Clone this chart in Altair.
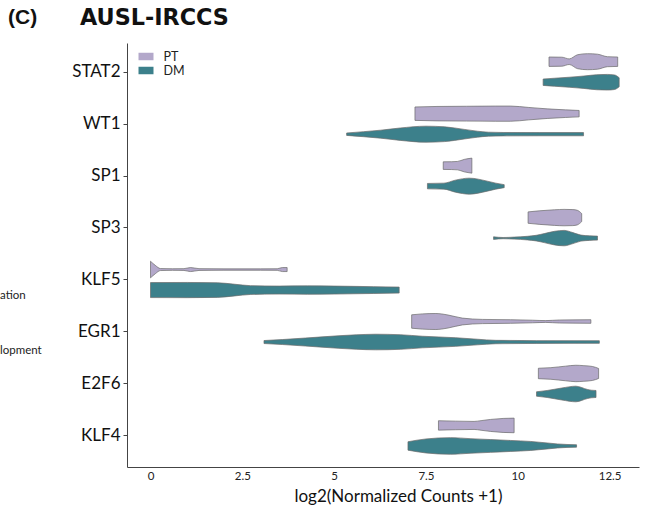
import altair as alt
import pandas as pd

# Genes from bottom to top of the chart
GENES = ["KLF4", "E2F6", "EGR1", "KLF5", "SP3", "SP1", "WT1", "STAT2"]
GROUPS = ["PT", "DM"]
COLORS = ["#b3a8ca", "#3c808b"]
X_TICKS = [0, 2.5, 5, 7.5, 10, 12.5]

# Violin outlines: expression values and density (half-width)
STAT2_PT_X = [10.85, 11.2, 11.4, 11.63, 11.9, 12.17, 12.44, 12.72]
STAT2_PT_D = [4.7, 4.5, 2.8, 7.0, 8.0, 7.5, 5.0, 4.7]
STAT2_DM_X = [10.69, 11.0, 11.4, 11.8, 12.15, 12.44, 12.63, 12.76]
STAT2_DM_D = [3.2, 4.0, 5.0, 6.2, 7.5, 7.8, 7.3, 4.5]

WT1_PT_X = [7.2, 7.8, 8.6, 9.4, 9.8, 10.3, 10.8, 11.3, 11.67]
WT1_PT_D = [6.7, 7.2, 7.4, 7.6, 7.6, 6.2, 4.8, 3.8, 3.2]
WT1_DM_X = [5.34, 5.8, 6.27, 6.8, 7.5, 8.0, 8.54, 8.9, 9.2, 9.6, 10.6, 11.79]
WT1_DM_D = [1.2, 2.5, 4.0, 6.2, 8.0, 7.4, 4.8, 3.0, 2.0, 1.7, 1.6, 1.6]

SP1_PT_X = [7.97, 8.2, 8.36, 8.54, 8.75]
SP1_PT_D = [3.8, 3.9, 4.2, 6.2, 7.5]
SP1_DM_X = [7.54, 7.99, 8.3, 8.68, 9.17, 9.4, 9.63]
SP1_DM_D = [2.7, 3.0, 6.0, 8.0, 5.0, 3.0, 1.5]

SP3_PT_X = [10.28, 10.6, 11.0, 11.26, 11.5, 11.62, 11.74]
SP3_PT_D = [5.7, 6.8, 7.8, 8.2, 8.0, 7.3, 4.0]
SP3_DM_X = [9.34, 9.6, 9.9, 10.26, 10.5, 10.72, 11.0, 11.26, 11.5, 11.72, 11.95, 12.17]
SP3_DM_D = [1.3, 0.6, 1.0, 1.8, 2.8, 4.5, 6.8, 7.7, 5.5, 3.0, 2.3, 2.0]

KLF5_PT_X = [0.0, 0.13, 0.27, 0.6, 0.91, 1.09, 1.32, 2.0, 3.0, 3.45, 3.59, 3.72]
KLF5_PT_D = [8.3, 4.2, 1.0, 0.8, 0.9, 2.0, 0.9, 0.7, 0.7, 0.8, 2.0, 2.0]
KLF5_DM_X = [0.0, 1.0, 1.82, 2.3, 2.72, 3.5, 4.27, 5.0, 6.08, 6.77]
KLF5_DM_D = [7.5, 7.6, 7.3, 5.8, 4.4, 4.0, 4.2, 4.0, 3.4, 3.0]

EGR1_PT_X = [7.11, 7.4, 7.77, 8.1, 8.49, 9.04, 9.8, 10.4, 10.76, 11.13, 11.99]
EGR1_PT_D = [6.7, 7.6, 8.0, 6.5, 3.4, 2.1, 1.8, 1.3, 0.9, 1.5, 1.8]
EGR1_DM_X = [3.09, 3.6, 4.22, 5.13, 5.6, 6.13, 6.8, 7.4, 8.31, 8.9, 9.4, 10.5, 12.22]
EGR1_DM_D = [1.5, 2.5, 4.0, 6.3, 7.2, 7.8, 7.3, 5.8, 4.3, 2.8, 1.7, 1.4, 1.3]

E2F6_PT_X = [10.56, 10.9, 11.3, 11.58, 11.8, 12.03, 12.2]
E2F6_PT_D = [5.2, 5.8, 7.3, 8.2, 7.8, 7.0, 5.0]
E2F6_DM_X = [10.51, 10.8, 11.2, 11.58, 11.9, 12.0, 12.13]
E2F6_DM_D = [2.2, 3.5, 6.0, 7.8, 4.5, 3.8, 3.5]

KLF4_PT_X = [7.84, 8.3, 8.81, 9.0, 9.26, 9.6, 9.9]
KLF4_PT_D = [4.7, 4.3, 4.0, 4.8, 6.0, 7.0, 7.3]
KLF4_DM_X = [7.01, 7.5, 8.17, 8.7, 9.26, 9.8, 10.35, 10.8, 11.08, 11.6]
KLF4_DM_D = [4.2, 7.0, 8.3, 7.3, 6.4, 5.5, 4.5, 3.0, 2.0, 1.2]

VIOLINS = {
    ("STAT2", "PT"): (STAT2_PT_X, STAT2_PT_D), ("STAT2", "DM"): (STAT2_DM_X, STAT2_DM_D),
    ("WT1", "PT"): (WT1_PT_X, WT1_PT_D), ("WT1", "DM"): (WT1_DM_X, WT1_DM_D),
    ("SP1", "PT"): (SP1_PT_X, SP1_PT_D), ("SP1", "DM"): (SP1_DM_X, SP1_DM_D),
    ("SP3", "PT"): (SP3_PT_X, SP3_PT_D), ("SP3", "DM"): (SP3_DM_X, SP3_DM_D),
    ("KLF5", "PT"): (KLF5_PT_X, KLF5_PT_D), ("KLF5", "DM"): (KLF5_DM_X, KLF5_DM_D),
    ("EGR1", "PT"): (EGR1_PT_X, EGR1_PT_D), ("EGR1", "DM"): (EGR1_DM_X, EGR1_DM_D),
    ("E2F6", "PT"): (E2F6_PT_X, E2F6_PT_D), ("E2F6", "DM"): (E2F6_DM_X, E2F6_DM_D),
    ("KLF4", "PT"): (KLF4_PT_X, KLF4_PT_D), ("KLF4", "DM"): (KLF4_DM_X, KLF4_DM_D),
}

DODGE = {"PT": 0.19, "DM": -0.205}
WIDTH_UNIT = 1 / 51.9

rows = []
for (gene, grp), (xs, ds) in VIOLINS.items():
    center = GENES.index(gene) + DODGE[grp]
    for x, d in zip(xs, ds):
        rows.append({"gene": gene, "group": grp, "vid": f"{gene}-{grp}", "x": x,
                     "y": center + d * WIDTH_UNIT, "y2": center - d * WIDTH_UNIT})
df = pd.DataFrame(rows)

FONT = "Lato"
label_expr = "[" + ",".join(f"'{g}'" for g in GENES) + "][datum.value]"

violins = alt.Chart(df).mark_area(
    interpolate="monotone", orient="vertical", stroke="#6a6a6a", strokeWidth=0.7
).encode(
    x=alt.X("x:Q", scale=alt.Scale(domain=[-0.64, 13.3], nice=False, zero=False),
            axis=alt.Axis(values=X_TICKS, labelExpr="'' + datum.value", ticks=False,
                          grid=False, labelFont=FONT, labelFontSize=11.5, labelColor="#222",
                          labelPadding=3, labelFlush=False, domainColor="#444",
                          title="log2(Normalized Counts +1)", titleFont=FONT,
                          titleFontSize=17, titleFontWeight="normal", titleColor="#111",
                          titlePadding=7, titleX=271)),
    y=alt.Y("y:Q", stack=None,
            scale=alt.Scale(domain=[-0.61, 7.55], nice=False, zero=False),
            axis=alt.Axis(values=list(range(len(GENES))), labelExpr=label_expr,
                          grid=False, tickSize=4, tickColor="#444", domainColor="#444",
                          labelFont=FONT, labelFontSize=17, labelColor="#111",
                          labelPadding=3, title=None)),
    y2="y2:Q",
    color=alt.Color("group:N", scale=alt.Scale(domain=GROUPS, range=COLORS),
                    legend=alt.Legend(title=None, orient="none", legendX=11.5, legendY=6,
                                      symbolType="M-1,-0.5H1V0.5H-1Z", symbolSize=225,
                                      symbolStrokeWidth=0, labelFont=FONT,
                                      labelFontSize=12.5, labelColor="#222",
                                      labelOffset=10, rowPadding=0, padding=0)),
    detail="vid:N",
)

def note(text, x, y, size, font, weight="normal", color="#222"):
    return alt.Chart(pd.DataFrame({"t": [text]})).mark_text(
        text=text, align="left", baseline="middle", font=font, fontSize=size,
        fontWeight=weight, color=color
    ).encode(x=alt.value(x), y=alt.value(y))

chart = alt.layer(
    violins,
    note("(C)", -119, -25, 21, "Liberation Sans", "bold", "#111"),
    note("AUSL-IRCCS", -47, -25, 22.3, "DejaVu Sans", "bold", "#111"),
    note("ation", -127, 253, 11.5, FONT),
    note("lopment", -127, 308, 11.5, FONT),
).properties(
    width=512, height=424,
    autosize=alt.AutoSizeParams(type="none"),
    padding={"left": 127, "top": 43, "right": 8, "bottom": 55},
).configure_view(stroke=None)

chart.save("out.html", embed_options={"renderer": "svg", "actions": False})
